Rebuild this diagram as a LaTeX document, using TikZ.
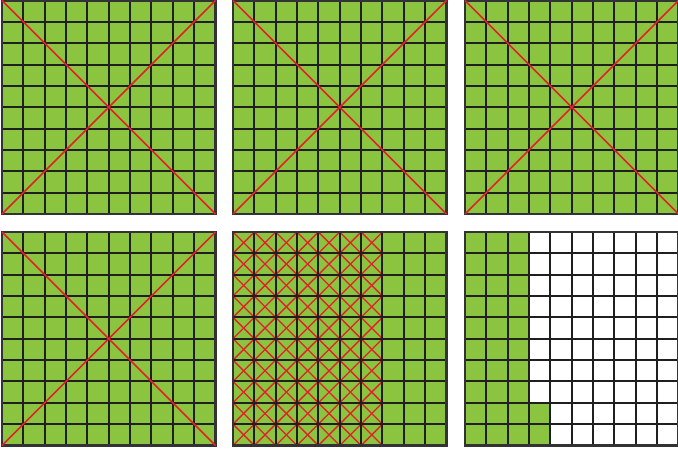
\documentclass[tikz,border=0pt]{standalone}
\definecolor{leaf}{HTML}{8BC43F}
\definecolor{xred}{HTML}{E2202A}
\newcommand{\cs}{21.35}
\newcommand{\gs}{213.5}
\newcommand{\tengrid}[2]{%
  \foreach \i in {0,...,10} {
    \draw[gridline] ({#1+\i*\cs},#2) -- ++(0,\gs);
    \draw[gridline] (#1,{#2+\i*\cs}) -- ++(\gs,0);
  }
  \draw[border] (#1,#2) rectangle ++(\gs,\gs);
}
\newcommand{\bigcross}[2]{%
  \draw[cross] (#1,#2) -- ++(\gs,\gs);
  \draw[cross] ({#1+\gs},#2) -- ++(-\gs,\gs);
}
\begin{document}
\begin{tikzpicture}[x=1pt,y=-1pt,
  gridline/.style={line width=2pt, draw=black!88},
  border/.style={line width=2.2pt, draw=black!80},
  cross/.style={draw=xred, line width=1.5pt},
  smallcross/.style={draw=xred, line width=1.3pt},
  greenfill/.style={fill=leaf},
  whitefill/.style={fill=white}]
\useasboundingbox (0,0) rectangle (678,452);
\clip (0,0) rectangle (678,452);
% top row: three full grids with big crosses
\foreach \X in {2,233,465} {
  \fill[greenfill] (\X,0.5) rectangle ++(\gs,\gs);
  \tengrid{\X}{0.5}
  \bigcross{\X}{0.5}
}
% bottom left
\fill[greenfill] (2,232) rectangle ++(\gs,\gs);
\tengrid{2}{232}
\bigcross{2}{232}
% bottom middle: 70 small crosses
\fill[greenfill] (233,232) rectangle ++(\gs,\gs);
\foreach \c in {0,...,6} {
  \foreach \r in {0,...,9} {
    \draw[smallcross] ({233+\c*\cs},{232+\r*\cs}) -- ++(\cs,\cs);
    \draw[smallcross] ({233+(\c+1)*\cs},{232+\r*\cs}) -- ++(-\cs,\cs);
  }
}
\tengrid{233}{232}
% bottom right: 32 green squares
\fill[whitefill] (465,232) rectangle ++(\gs,\gs);
\fill[greenfill] (465,232) rectangle ++({3*\cs},\gs);
\fill[greenfill] ({465+3*\cs},{232+8*\cs}) rectangle ++(\cs,{2*\cs});
\tengrid{465}{232}
\end{tikzpicture}
\end{document}
